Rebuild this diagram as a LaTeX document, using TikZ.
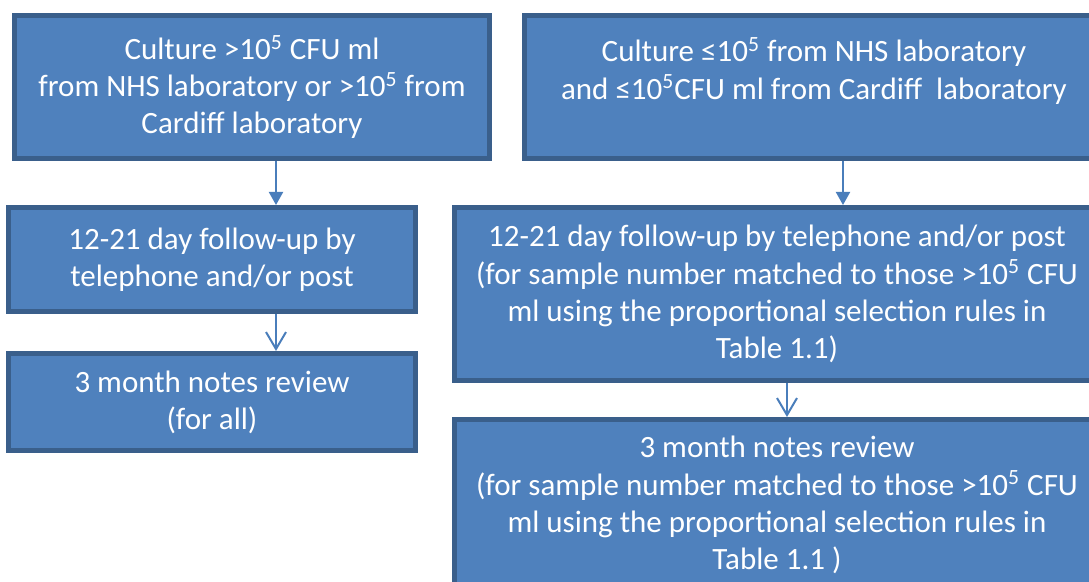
\documentclass[tikz,border=0pt]{standalone}
\usepackage{fontspec}
\setmainfont{Carlito}
\usetikzlibrary{arrows.meta}
\definecolor{boxfill}{HTML}{4F81BD}
\definecolor{boxline}{HTML}{3A5F8B}
\definecolor{arrline}{HTML}{4A7EBB}
\tikzset{
  box/.style={draw=boxline,fill=boxfill,line width=2.5pt,text=white,
    align=center,inner sep=0pt,font=\fontsize{15.5}{18.6}\selectfont},
  arr/.style={draw=arrline,line width=1pt,-{Triangle[length=6.5pt,width=7pt]}},
  arrv/.style={draw=arrline,line width=1pt,-{Straight Barb[length=8.5pt,width=10pt,line join=miter]}},
}

\begin{document}
\begin{tikzpicture}[x=0.5pt,y=-0.5pt]
    \useasboundingbox (0,0) rectangle (1089,582);

    % left column
    \node[box,minimum width=237.5pt,minimum height=71.5pt] (pos) at (252,87)
      {Culture >10\textsuperscript{5} CFU ml\\ from NHS laboratory or >10\textsuperscript{5} from\\ Cardiff laboratory};
    \node[box,minimum width=203.5pt,minimum height=52pt] (fupos) at (212,259.5)
      {12-21 day follow-up by\\ telephone and/or post};
    \node[box,minimum width=203.5pt,minimum height=48.5pt] (revpos) at (212,402)
      {3 month notes review\\ (for all)};

    % right column
    \node[box,minimum width=290pt,minimum height=71.5pt] (neg) at (814,87)
      {Culture ≤10\textsuperscript{5} from NHS laboratory\\ and ≤10\textsuperscript{5}CFU ml from Cardiff\ \ laboratory\\ \mbox{}};
    \node[box,minimum width=322.5pt,minimum height=86.5pt] (funeg) at (777,294)
      {12-21 day follow-up by telephone and/or post\\ (for sample number matched to those >10\textsuperscript{5} CFU\\ ml using the proportional selection rules in\\ Table 1.1)};
    \node[box,minimum width=322.5pt,minimum height=85.5pt] (revneg) at (777,505)
      {3 month notes review\\ (for sample number matched to those >10\textsuperscript{5} CFU\\ ml using the proportional selection rules in\\ Table 1.1 )};

    \coordinate (xl) at (276,0);
    \coordinate (xr1) at (843,0);
    \coordinate (xr2) at (787,0);

    \draw[arr] (pos.south -| xl) -- (fupos.north -| xl);
    \draw[arrv] (fupos.south -| xl) -- (revpos.north -| xl);
    \draw[arr] (neg.south -| xr1) -- (funeg.north -| xr1);
    \draw[arrv] (funeg.south -| xr2) -- (revneg.north -| xr2);
\end{tikzpicture}
\end{document}
